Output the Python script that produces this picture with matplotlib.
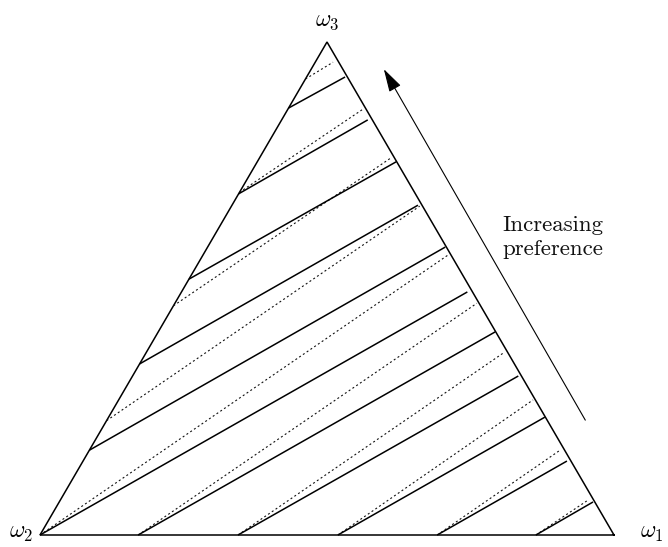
import matplotlib
matplotlib.use("Agg")
import matplotlib.pyplot as plt

plt.rcParams["mathtext.fontset"] = "cm"

# Simplex coordinates (p1 = prob of omega1, p3 = prob of omega3)
corner_labels = [r"$\omega_1$", r"$\omega_2$", r"$\omega_3$"]
corner_p1 = [1.0, 0.0, 0.0]
corner_p3 = [0.0, 0.0, 1.0]

# Solid indifference lines: start and end points
solid_start_p1 = [0.0, 0.0, 0.0, 0.0, 0.0, 0.0, 0.171, 0.345, 0.519, 0.692, 0.864]
solid_start_p3 = [0.866, 0.692, 0.519, 0.347, 0.172, 0.0, 0.0, 0.0, 0.0, 0.0, 0.0]
solid_end_p1 = [0.067, 0.150, 0.242, 0.324, 0.414, 0.498, 0.587, 0.672, 0.760, 0.843, 0.930]
solid_end_p3 = [0.929, 0.842, 0.757, 0.669, 0.584, 0.493, 0.412, 0.3225, 0.239, 0.150, 0.067]

# Dotted lines: start and end points
dotted_start_p1 = [0.0, 0.0, 0.0, 0.0, 0.0, 0.171, 0.345, 0.519, 0.692, 0.864]
dotted_start_p3 = [0.925, 0.695, 0.465, 0.232, 0.0, 0.0, 0.0, 0.0, 0.0, 0.0]
dotted_end_p1 = [0.031, 0.131, 0.229, 0.328, 0.427, 0.526, 0.624, 0.722, 0.820, 0.918]
dotted_end_p3 = [0.959, 0.864, 0.765, 0.667, 0.568, 0.470, 0.371, 0.274, 0.172, 0.069]

arrow_label = "Increasing\npreference"


def to_xy(p1, p3):
    return p1 + p3 / 2.0, p3


fig = plt.figure(figsize=(6.68, 5.47), dpi=100)
ax = fig.add_axes([0, 0, 1, 1])
ax.set_xlim(-40 / 574, 628 / 574)
ax.set_ylim(-12 / 493, 535 / 493)
ax.axis("off")

# triangle
tx, ty = [], []
for p1, p3 in zip(corner_p1 + corner_p1[:1], corner_p3 + corner_p3[:1]):
    x, y = to_xy(p1, p3)
    tx.append(x)
    ty.append(y)
ax.plot(tx, ty, color="black", lw=1.1, solid_joinstyle="miter")

for a1, a3, b1, b3 in zip(dotted_start_p1, dotted_start_p3, dotted_end_p1, dotted_end_p3):
    x0, y0 = to_xy(a1, a3)
    x1, y1 = to_xy(b1, b3)
    ax.plot([x0, x1], [y0, y1], color="#111111", lw=0.8, dashes=(1.8, 2.3))

for a1, a3, b1, b3 in zip(solid_start_p1, solid_start_p3, solid_end_p1, solid_end_p3):
    x0, y0 = to_xy(a1, a3)
    x1, y1 = to_xy(b1, b3)
    ax.plot([x0, x1], [y0, y1], color="black", lw=1.1, solid_capstyle="butt")

# arrow
ax.annotate("", xy=(0.599, 0.945), xytext=(0.950, 0.233),
            arrowprops=dict(arrowstyle="-|>,head_length=0.95,head_width=0.27",
                            lw=0.8, color="black", mutation_scale=15,
                            shrinkA=0, shrinkB=0))
ax.text(0.894, 0.604, arrow_label, ha="center", va="center",
        fontfamily="cmr10", fontsize=16.5, linespacing=1.3, color="#111111")

# corner labels
ax.text(1.066, 0.006, corner_labels[0], ha="center", va="center", fontsize=17)
ax.text(-0.033, 0.006, corner_labels[1], ha="center", va="center", fontsize=17)
ax.text(0.5, 1.045, corner_labels[2], ha="center", va="center", fontsize=17)

fig.savefig("out.png", dpi=100)
